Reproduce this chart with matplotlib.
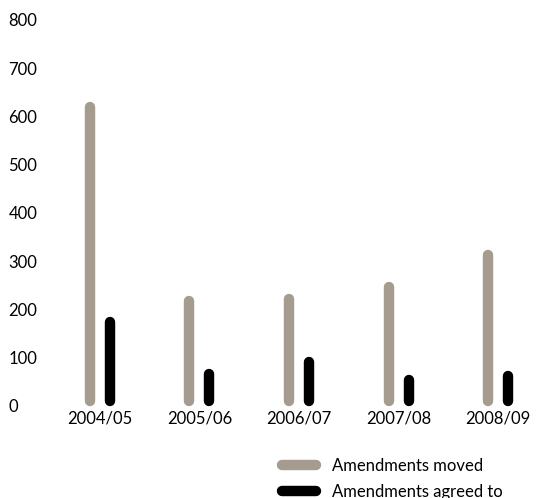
import numpy as np
import matplotlib.pyplot as plt
from matplotlib.lines import Line2D

plt.rcParams['font.family'] = ['Lato', 'DejaVu Sans']

years = ['2004/05', '2005/06', '2006/07', '2007/08', '2008/09']
moved = [630, 228, 232, 257, 323]
agreed = [185, 77, 101, 64, 72]

grey = '#a59b8f'
black = '#000000'

fig = plt.figure(figsize=(5.37, 4.98), dpi=100)
ax = fig.add_axes([0.093, 0.185, 0.907, 0.775])
ax.set_ylim(0, 800)
ax.set_xlim(-0.5, 4.39)

lw = 7.5  # points
# radius of the round cap in data units
r = (lw / 72 * 100 / 2) / (0.775 * 498) * 800

x = np.arange(len(years))
for xi, m, a in zip(x, moved, agreed):
    ax.plot([xi - 0.1, xi - 0.1], [r, m - r], color=grey, lw=lw,
            solid_capstyle='round', clip_on=False)
    ax.plot([xi + 0.1, xi + 0.1], [r, a - r], color=black, lw=lw,
            solid_capstyle='round', clip_on=False)

ax.set_xticks(x)
ax.set_xticklabels(years, fontsize=12)
ax.set_yticks(range(0, 801, 100))
ax.tick_params(axis='y', labelsize=12, length=0, pad=30)
ax.tick_params(axis='x', length=0, pad=3)
for lab in ax.get_yticklabels():
    lab.set_horizontalalignment('left')
for s in ax.spines.values():
    s.set_visible(False)

handles = [Line2D([], [], color=grey, lw=lw, solid_capstyle='round'),
           Line2D([], [], color=black, lw=lw, solid_capstyle='round')]
fig.legend(handles, ['Amendments moved', 'Amendments agreed to'],
           loc='upper left', bbox_to_anchor=(0.51, 0.098), frameon=False,
           fontsize=12, handlelength=2.0, handletextpad=1.0,
           labelspacing=0.6, borderpad=0)

fig.savefig('out.png', dpi=100)
